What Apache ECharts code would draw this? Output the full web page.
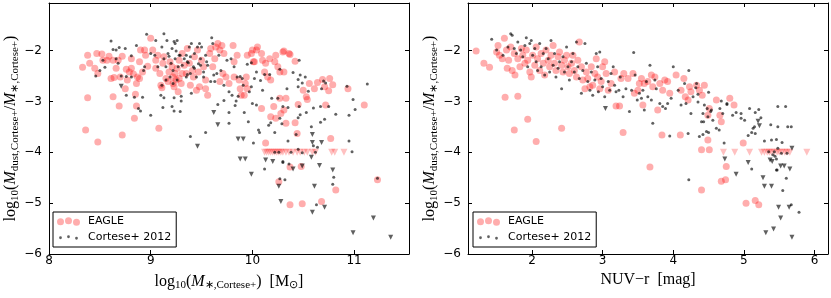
<!DOCTYPE html>
<html><head><meta charset="utf-8">
<script src="https://cdn.jsdelivr.net/npm/echarts@6/dist/echarts.min.js"></script>
<style>html,body{margin:0;padding:0;background:#fff}#c{width:831px;height:298px}</style>
</head><body><div id="c"></div>
<script>
// ---------- data ----------
const yTicks = [-6, -5, -4, -3, -2];
const xTicksLeft = [8, 9, 10, 11];
const xTicksRight = [2, 3, 4, 5, 6];
const seriesNames = ['EAGLE', 'Cortese+ 2012'];

const leftEagle = [
[8.33,-2.33],[8.38,-2.09],[8.40,-2.25],[8.45,-2.35],[8.47,-2.06],[8.48,-2.45],[8.52,-2.07],[8.53,-2.19],[8.38,-2.93],[8.36,-3.56],[8.48,-3.80],[8.57,-2.19],[8.61,-2.55],[8.59,-2.11],
[8.63,-2.19],[8.64,-2.53],[8.63,-2.91],[8.69,-3.09],[8.72,-3.66],[8.75,-2.75],[8.77,-2.58],[8.68,-2.19],[8.72,-2.11],[8.76,-2.37],[8.79,-2.42],[8.81,-2.16],[8.83,-2.46],[8.84,-3.33],[8.85,-2.86],[8.86,-3.09],[8.87,-2.52],[8.86,-2.65],[8.89,-2.22],[8.92,-2.42],[8.95,-2.09],[8.97,-2.31],[8.66,-2.35],[8.70,-2.52],[8.81,-2.35],[8.90,-1.99],[8.94,-1.99],[8.89,-2.55],
[9.00,-1.76],[9.02,-1.99],[9.05,-2.19],[9.05,-2.35],[9.07,-2.09],[9.09,-2.45],[9.10,-2.68],[9.11,-2.73],[9.08,-3.53],[9.12,-2.25],[9.13,-2.12],[9.15,-2.55],[9.17,-2.61],[9.18,-2.42],[9.19,-2.22],[9.21,-2.32],[9.22,-2.52],[9.22,-2.65],[9.23,-2.71],[9.24,-2.45],[9.25,-2.58],[9.26,-2.35],[9.27,-2.81],[9.28,-2.55],[9.28,-2.19],[9.30,-2.65],[9.31,-2.45],[9.31,-2.06],[9.33,-2.29],[9.35,-2.45],[9.36,-1.96],[9.38,-2.25],[9.39,-2.68],[9.41,-2.39],[9.42,-2.52],[9.43,-2.12],[9.45,-2.78],[9.46,-1.99],[9.47,-2.42],[9.48,-2.71],
[9.50,-2.19],[9.52,-2.32],[9.54,-2.58],[9.54,-2.75],[9.56,-2.88],[9.58,-2.06],[9.59,-1.96],[9.61,-2.32],[9.63,-2.16],[9.64,-1.93],[9.66,-1.86],[9.68,-1.99],[9.68,-2.61],[9.70,-1.90],[9.71,-2.45],[9.72,-2.06],[9.74,-2.52],[9.81,-1.90],[9.82,-2.22],[9.85,-2.09],[9.87,-2.58],[9.88,-2.75],[9.89,-2.88],[9.92,-2.88],[9.93,-2.65],[9.94,-2.52],[9.95,-2.09],[9.99,-2.06],[10.00,-1.99],[10.01,-2.22],[9.95,-2.75],[9.82,-2.52],[9.77,-2.65],
[10.02,-2.22],[10.04,-1.99],[10.05,-1.93],[10.09,-2.06],[10.10,-2.19],[10.12,-2.42],[10.13,-2.25],[10.15,-2.52],[10.17,-2.16],[10.18,-2.58],[10.22,-2.22],[10.23,-2.09],[10.25,-2.32],[10.27,-2.42],[10.30,-2.03],[10.31,-2.42],[10.36,-2.06],[10.09,-3.14],[10.13,-3.82],[10.18,-3.30],[10.21,-3.10],[10.23,-3.33],[10.27,-2.94],[10.28,-3.24],[10.31,-3.17],[10.33,-2.94],[10.33,-3.43],[10.37,-4.29],[10.26,-4.58],[10.37,-5.03],[10.42,-3.42],[10.44,-3.63],[10.45,-3.06],[10.48,-4.28],[10.49,-5.01],[10.50,-2.78],[10.53,-2.91],[10.54,-2.96],[10.56,-2.65],[10.31,-2.01],[10.37,-2.08],[10.42,-2.21],
[10.61,-2.75],[10.64,-2.63],[10.69,-2.57],[10.71,-2.71],[10.72,-3.07],[10.75,-2.79],[10.76,-2.55],[10.79,-2.67],[10.77,-3.73],[10.82,-4.74],[10.68,-4.97],[10.94,-2.75],[11.10,-3.07],[11.23,-4.54]
];
const leftEagleUpper = [
[10.12,-4],[10.14,-4],[10.16,-4],[10.18,-4],[10.20,-4],[10.22,-4],[10.24,-4],[10.26,-4],[10.28,-4],[10.30,-4],[10.33,-4],[10.36,-4],[10.40,-4],[10.44,-4],[10.47,-4],[10.51,-4],[10.54,-4],[10.59,-4],[10.62,-4],[10.78,-4],[10.81,-4],[10.90,-4]
];
const leftCortese = [
[8.46,-2.50],[8.50,-2.39],[8.53,-2.19],[8.55,-2.33],[8.61,-1.81],[8.63,-1.98],[8.66,-1.99],[8.69,-1.94],[8.75,-1.96],[8.76,-2.88],[8.81,-2.10],[8.86,-1.90],[8.84,-2.92],[8.88,-3.14],[8.90,-3.19],[8.92,-2.92],[8.96,-1.68],[9.00,-3.27],[9.12,-3.12],[9.10,-2.88],[9.11,-2.68],[9.13,-1.67],[9.05,-1.80],[9.00,-2.06],[8.94,-2.32],[8.93,-2.39],[8.81,-2.52],[8.76,-2.51],[8.71,-2.50],[8.68,-2.25],[8.66,-2.16],
[9.16,-1.80],[9.23,-1.82],[9.25,-2.01],[9.29,-2.09],[9.33,-2.16],[9.36,-2.22],[9.40,-1.86],[9.46,-1.93],[9.60,-1.75],[9.61,-1.86],[9.55,-2.22],[9.52,-2.42],[9.49,-2.29],[9.43,-2.35],[9.39,-2.45],[9.35,-2.52],[9.31,-2.29],[9.23,-2.93],[9.29,-3.20],[9.23,-3.19],[9.30,-2.99],[9.39,-3.69],[9.54,-3.61],
[9.04,-2.09],[9.07,-2.32],[9.11,-1.93],[9.13,-2.16],[9.15,-2.32],[9.17,-2.06],[9.18,-2.11],[9.19,-2.52],[9.20,-2.25],[9.21,-1.96],[9.22,-2.65],[9.22,-2.39],[9.24,-1.86],[9.24,-2.16],[9.26,-1.80],[9.26,-2.58],[9.27,-2.32],[9.28,-2.09],[9.30,-2.90],[9.35,-2.09],[9.36,-2.47],[9.37,-2.24],[9.38,-1.93],[9.39,-2.12],[9.40,-2.84],[9.42,-2.32],[9.43,-2.06],[9.45,-2.52],[9.47,-2.26],[9.48,-1.86],[9.49,-2.16],[9.15,-2.58],[9.13,-2.93],[9.21,-3.10],
[9.50,-1.93],[9.52,-2.52],[9.54,-2.09],[9.56,-2.29],[9.59,-2.61],[9.62,-2.48],[9.63,-2.61],[9.65,-2.45],[9.66,-3.06],[9.67,-2.09],[9.69,-2.39],[9.72,-2.98],[9.72,-2.68],[9.75,-2.19],[9.77,-3.43],[9.77,-3.22],[9.77,-2.81],[9.79,-2.16],[9.80,-2.88],[9.82,-2.32],[9.84,-2.99],[9.85,-2.52],[9.88,-2.51],[9.90,-2.55],[9.91,-2.68],[9.92,-3.22],[9.95,-2.27],[9.96,-3.40],[9.97,-2.81],[9.99,-2.71],[9.99,-2.24],[10.00,-3.04],[10.01,-3.82],[9.86,-2.90],[9.83,-3.08],
[10.02,-2.55],[10.04,-3.07],[10.04,-2.42],[10.06,-3.56],[10.07,-3.61],[10.08,-2.59],[10.10,-2.78],[10.12,-2.47],[10.17,-2.47],[10.19,-2.94],[10.18,-3.42],[10.22,-3.61],[10.16,-3.47],[10.12,-4.33],[10.30,-4.18],[10.27,-4.52],[10.27,-2.37],[10.25,-2.94],[10.27,-3.33],[10.29,-3.44],[10.34,-2.75],[10.35,-3.12],[10.40,-2.43],[10.46,-2.19],[10.47,-2.48],[10.52,-2.52],[10.45,-2.57],[10.49,-2.64],[10.45,-2.71],[10.30,-3.10],[10.46,-3.10],[10.53,-3.22],[10.47,-3.26],[10.45,-3.32],[10.35,-3.78],[10.43,-3.65],[10.45,-3.94],[10.49,-4.01],[10.30,-4.20],[10.32,-4.54],[10.26,-4.00],[10.22,-4.00],[10.38,-4.00],[10.36,-4.23],
[10.58,-3.50],[10.67,-3.41],[10.71,-3.35],[10.67,-3.10],[10.75,-3.10],[10.82,-3.25],[10.95,-3.27],[11.01,-3.16],[10.99,-2.96],[10.93,-2.70],[11.13,-2.66],[10.95,-3.78],[10.98,-3.99],[10.80,-4.49],[10.79,-4.63],[11.23,-4.51],[10.63,-5.03],[10.68,-2.75],[10.72,-2.64],[10.62,-4.00],[10.60,-3.87],[10.64,-3.90],[10.70,-2.60],[10.60,-3.13],[10.55,-2.80]
];
const leftCorteseUpper = [
[8.71,-2.70],[9.46,-3.88],[9.62,-3.22],[9.66,-3.46],[9.86,-3.74],[9.91,-3.74],[9.88,-4.13],[9.93,-4.13],[9.99,-4.43],[10.13,-4.15],[10.20,-4.18],[10.26,-4.67],[10.28,-4.97],[10.40,-4.33],[10.49,-4.27],[10.59,-3.65],[10.59,-3.81],[10.68,-3.81],[10.58,-4.10],[10.66,-4.26],[10.61,-4.67],[10.71,-5.08],[10.59,-5.18],[11.19,-5.29],[10.99,-5.58],[11.36,-5.67],[10.79,-4.35]
];

const rightEagle = [
[1.21,-2.01],[1.32,-2.25],[1.40,-2.33],[1.50,-2.03],[1.52,-1.90],[1.54,-2.09],[1.58,-2.16],[1.61,-1.76],[1.64,-1.99],[1.65,-2.35],[1.67,-2.19],[1.70,-1.93],[1.72,-2.39],[1.75,-2.06],[1.76,-2.48],[1.80,-2.16],[1.83,-2.32],[1.85,-1.96],[1.87,-2.09],[1.90,-2.25],[1.92,-1.99],[1.94,-2.19],[1.97,-2.42],[1.99,-2.52],
[2.01,-2.09],[2.04,-2.29],[2.06,-1.93],[2.08,-2.16],[2.11,-2.39],[2.13,-2.06],[2.16,-2.25],[2.18,-2.48],[2.20,-1.99],[2.23,-2.19],[2.25,-2.32],[2.27,-2.09],[2.30,-1.90],[2.32,-2.25],[2.34,-2.39],[2.37,-2.12],[2.39,-2.03],[2.42,-2.29],[2.44,-2.42],[2.46,-2.19],[2.49,-2.09],[2.51,-2.32],[2.53,-2.45],[2.56,-2.25],[2.58,-2.09],[2.60,-2.39],[2.63,-2.52],[2.65,-2.19],[2.67,-1.83],[2.70,-2.32],[2.72,-2.58],[2.75,-2.75],[2.77,-2.42],[2.79,-2.55],[2.82,-2.71],[2.84,-2.32],[2.86,-2.68],[2.89,-2.45],[2.91,-2.16],[2.93,-2.52],[2.96,-2.75],[2.98,-2.61],
[3.00,-2.32],[3.03,-2.22],[3.05,-2.45],[3.08,-2.78],[3.12,-2.65],[3.17,-2.42],[3.19,-3.09],[3.24,-3.09],[3.26,-2.55],[3.29,-3.61],[3.30,-2.45],[3.36,-2.55],[3.43,-2.45],[3.45,-2.84],[3.50,-2.78],[3.52,-2.65],[3.55,-2.55],[3.57,-3.07],[3.59,-2.65],[3.64,-2.61],[3.69,-2.48],[3.71,-2.71],[3.74,-2.52],[3.78,-3.17],[3.81,-2.65],[3.85,-2.78],[3.88,-2.58],[3.92,-2.61],[3.95,-2.84],
[4.04,-2.48],[4.11,-2.78],[4.15,-2.55],[4.17,-2.91],[4.21,-2.97],[4.23,-2.71],[4.25,-2.81],[4.33,-2.68],[4.37,-2.78],[4.41,-2.88],[4.44,-2.68],[4.40,-3.95],[4.40,-4.74],[4.49,-3.27],[4.51,-3.14],[4.61,-2.97],[4.66,-3.27],[4.68,-3.40],[4.80,-2.94],[4.86,-3.07],[3.84,-3.66],[4.10,-3.66],[4.49,-3.76],[4.51,-3.95],[4.75,-4.28],[4.68,-4.57],[4.74,-4.54],[4.99,-3.82],[5.03,-5.00],[5.16,-4.95],[5.21,-5.03],[3.67,-4.29],
[1.80,-2.90],[1.62,-2.92],[1.94,-3.35],[1.75,-3.56],[2.06,-3.79],[2.42,-3.53]
];
const rightEagleUpper = [
[4.71,-4],[4.87,-4],[5.08,-4],[5.25,-4],[5.29,-4],[5.33,-4],[5.36,-4],[5.39,-4],[5.43,-4],[5.47,-4],[5.50,-4],[5.54,-4],[5.58,-4],[5.61,-4],[5.65,-4],[5.89,-4]
];
const rightCortese = [
[1.43,-1.78],[1.50,-1.99],[1.59,-2.09],[1.66,-1.93],[1.70,-1.67],[1.72,-1.70],[1.75,-1.96],[1.78,-2.06],[1.80,-1.83],[1.84,-1.99],[1.87,-2.12],[1.90,-1.90],[1.92,-1.75],[1.94,-2.32],[1.97,-1.86],[1.99,-1.80],
[2.01,-2.09],[2.04,-1.96],[2.06,-2.22],[2.08,-2.39],[2.11,-1.86],[2.13,-2.32],[2.16,-2.06],[2.18,-2.48],[2.20,-1.96],[2.23,-2.16],[2.25,-2.42],[2.27,-1.80],[2.30,-2.29],[2.32,-2.06],[2.34,-2.52],[2.37,-2.35],[2.39,-2.22],[2.42,-2.75],[2.44,-2.12],[2.46,-2.42],[2.49,-1.93],[2.51,-2.32],[2.53,-2.58],[2.56,-2.22],[2.58,-2.06],[2.60,-2.42],[2.63,-1.83],[2.65,-2.32],[2.67,-2.55],[2.70,-2.84],[2.72,-2.39],[2.75,-1.86],[2.77,-2.25],[2.79,-2.61],[2.82,-2.78],[2.84,-2.42],[2.86,-2.88],[2.89,-2.58],[2.91,-2.06],[2.93,-2.32],[2.94,-2.81],[2.96,-2.03],[2.98,-2.55],
[3.00,-2.71],[3.03,-2.91],[3.08,-2.61],[3.10,-2.78],[3.12,-2.45],[3.15,-2.32],[3.17,-2.68],[3.19,-2.81],[3.23,-2.78],[3.25,-2.52],[3.29,-2.91],[3.33,-2.75],[3.38,-3.20],[3.41,-2.78],[3.44,-2.04],[3.46,-2.48],[3.49,-2.97],[3.52,-2.84],[3.55,-2.94],[3.57,-2.78],[3.59,-3.17],[3.62,-2.61],[3.64,-2.91],[3.67,-2.29],[3.69,-2.97],[3.71,-3.43],[3.74,-2.58],[3.76,-2.75],[3.81,-3.04],[3.85,-3.10],[3.89,-3.14],[3.92,-3.04],[3.95,-3.68],[3.97,-2.94],
[4.00,-2.32],[4.07,-2.78],[4.11,-3.07],[4.16,-2.65],[4.18,-3.04],[4.21,-3.63],[4.22,-2.39],[4.25,-3.24],[4.28,-2.91],[4.33,-2.65],[4.35,-3.01],[4.37,-3.69],[4.40,-3.40],[4.42,-3.24],[4.44,-3.07],[4.47,-3.59],[4.49,-3.30],[4.54,-3.17],[4.56,-3.37],[4.61,-3.53],[4.66,-3.14],[4.70,-3.24],[4.76,-3.04],[4.84,-3.27],[4.22,-4.54],
[4.32,-2.73],[4.35,-2.86],[4.50,-2.82],[4.68,-2.99],[4.76,-3.06],[4.48,-3.14],[4.53,-3.20],[4.43,-3.40],[4.42,-3.65],[4.50,-3.61],[4.65,-3.56],[4.72,-3.82],[4.89,-3.22],[4.96,-3.24],[4.96,-3.33],
[5.01,-3.37],[5.06,-3.67],[5.08,-3.14],[5.11,-3.61],[5.16,-3.63],[5.16,-3.22],[5.21,-3.16],[5.24,-3.32],[5.13,-3.53],[5.15,-3.50],[5.29,-3.78],[5.38,-3.46],[5.39,-3.76],[5.46,-3.75],[5.54,-3.81],[5.48,-3.50],[5.48,-3.10],[5.59,-3.10],[5.67,-3.50],[5.62,-3.50],[5.43,-3.99],[5.48,-3.92],[5.53,-4.02],[5.61,-4.02],[5.41,-4.05],[5.44,-4.08],[5.46,-4.13],[5.35,-3.99],[5.46,-4.35],[5.47,-4.35],[5.11,-4.33],[5.60,-4.51],[5.55,-4.75],[5.67,-5.03],[5.78,-5.18]
];
const rightCorteseUpper = [
[3.04,-3.14],[4.73,-4.13],[4.89,-4.43],[5.06,-4.20],[5.27,-4.50],[5.29,-4.67],[5.39,-4.67],[5.31,-5.58],[5.42,-5.51],[5.52,-5.29],[5.49,-5.08],[5.64,-5.08],[5.68,-5.67],[5.65,-4.33],[5.68,-3.92],[5.20,-3.39],[5.22,-3.48],[5.52,-4.27],[5.57,-4.27],[5.37,-4.15],[5.40,-4.18]
];

// ---------- chart ----------
const chart = echarts.init(document.getElementById('c'), null, {renderer: 'canvas'});
const BLACK = '#000';
const EAGLE_COL = 'rgba(255,0,0,0.4)';
const COR_COL = 'rgba(0,0,0,0.78)';
const fmt = v => String(v).replace('-', '\u2212');
const mathRich = {
  r: {fontFamily: 'Liberation Serif', fontSize: 16, lineHeight: 20, color: BLACK},
  i: {fontFamily: 'Liberation Serif', fontStyle: 'italic', fontSize: 16, lineHeight: 20, color: BLACK},
  s: {fontFamily: 'Liberation Serif', fontSize: 11, lineHeight: 11, padding: [8, 0, 0, 0], color: BLACK}
};
function xAxisDef(gi, ticks, min, max, pos, name) {
  const isMain = pos === 'bottom';
  return {
    type: 'value', gridIndex: gi, position: pos, min: min, max: max,
    name: isMain ? name : '', nameLocation: 'middle', nameGap: 5,
    nameTextStyle: {rich: mathRich, fontFamily: 'Liberation Serif', fontSize: 16, color: BLACK, verticalAlign: 'top'},
    axisLine: {show: true, onZero: false, lineStyle: {color: BLACK, width: 1}},
    axisTick: {show: true, inside: true, length: 4, customValues: ticks, lineStyle: {color: BLACK, width: 1}},
    axisLabel: {show: isMain, customValues: ticks, formatter: fmt, margin: 1, fontFamily: 'DejaVu Sans', fontSize: 12, color: BLACK},
    splitLine: {show: false}
  };
}
function yAxisDef(gi, pos, name) {
  const isMain = pos === 'left';
  return {
    type: 'value', gridIndex: gi, position: pos, min: -6, max: -1.065,
    name: isMain ? name : '', nameLocation: 'middle', nameGap: 22, nameRotate: 90,
    nameTextStyle: {rich: mathRich, fontFamily: 'Liberation Serif', fontSize: 16, color: BLACK},
    axisLine: {show: true, onZero: false, lineStyle: {color: BLACK, width: 1}},
    axisTick: {show: true, inside: true, length: 4, customValues: yTicks, lineStyle: {color: BLACK, width: 1}},
    axisLabel: {show: isMain, customValues: yTicks, formatter: fmt, margin: 7, fontFamily: 'DejaVu Sans', fontSize: 12, color: BLACK},
    splitLine: {show: false}
  };
}
const yName = '{r|log}{s|10}{r|(}{i|M}{s|dust,Cortese+}{r|/}{i|M}{s|\u2217,Cortese+}{r|)}';
const xNameLeft = '{r|log}{s|10}{r|(}{i|M}{s|\u2217,Cortese+}{r|)  [M}{s|\u2299}{r|]}';
const xNameRight = '{r|NUV\u2212r  [mag]}';

const eagleIcon = 'path://M0,4.5a3.5,3.5 0 1,0 7,0a3.5,3.5 0 1,0 -7,0Z M8,3.5a3.5,3.5 0 1,0 7,0a3.5,3.5 0 1,0 -7,0Z M16,5a3.5,3.5 0 1,0 7,0a3.5,3.5 0 1,0 -7,0Z';
const corIcon = 'path://M0,0L0.01,0Z M23,8.5L22.99,8.5Z M2.1,4.5a1.4,1.4 0 1,0 2.8,0a1.4,1.4 0 1,0 -2.8,0Z M10.1,3.5a1.4,1.4 0 1,0 2.8,0a1.4,1.4 0 1,0 -2.8,0Z M18.1,5a1.4,1.4 0 1,0 2.8,0a1.4,1.4 0 1,0 -2.8,0Z';

function legendDef(left) {
  return {
    left: left, top: 212, orient: 'vertical',
    data: [{name: seriesNames[0], icon: eagleIcon}, {name: seriesNames[1], icon: corIcon}],
    itemWidth: 23, itemHeight: 8.5, itemGap: 5,
    padding: [4, 5, 4, 4],
    borderColor: BLACK, borderWidth: 1, borderRadius: 0, backgroundColor: '#fff',
    textStyle: {fontFamily: 'DejaVu Sans', fontSize: 11, color: BLACK, padding: [0, 0, 0, 3]},
    selectedMode: false
  };
}
function panelSeries(ax, eagle, eagleUp, cor, corUp) {
  return [
    {name: seriesNames[0], type: 'scatter', xAxisIndex: ax, yAxisIndex: ax, data: eagle, symbol: 'circle', symbolSize: 7, itemStyle: {color: EAGLE_COL}, silent: true, z: 2},
    {name: 'EAGLE limits', type: 'scatter', xAxisIndex: ax, yAxisIndex: ax, data: eagleUp, symbol: 'triangle', symbolRotate: 180, symbolSize: 7, itemStyle: {color: 'rgba(255,0,0,0.3)'}, silent: true, z: 2},
    {name: seriesNames[1], type: 'scatter', xAxisIndex: ax, yAxisIndex: ax, data: cor, symbol: 'circle', symbolSize: 3, itemStyle: {color: COR_COL}, silent: true, z: 3},
    {name: 'Cortese limits', type: 'scatter', xAxisIndex: ax, yAxisIndex: ax, data: corUp, symbol: 'triangle', symbolRotate: 180, symbolSize: 5, itemStyle: {color: COR_COL}, silent: true, z: 3}
  ];
}
chart.setOption({
  animation: false,
  backgroundColor: '#fff',
  grid: [
    {left: 49, top: 3, width: 360, height: 251},
    {left: 468, top: 3, width: 360, height: 251}
  ],
  xAxis: [
    xAxisDef(0, xTicksLeft, 8, 11.54, 'bottom', xNameLeft),
    xAxisDef(0, xTicksLeft, 8, 11.54, 'top', ''),
    xAxisDef(1, xTicksRight, 1.095, 6.19, 'bottom', xNameRight),
    xAxisDef(1, xTicksRight, 1.095, 6.19, 'top', '')
  ],
  yAxis: [
    yAxisDef(0, 'left', yName),
    yAxisDef(0, 'right', ''),
    yAxisDef(1, 'left', yName),
    yAxisDef(1, 'right', '')
  ],
  legend: [legendDef(53), legendDef(473)],
  series: [].concat(
    panelSeries(0, leftEagle, leftEagleUpper, leftCortese, leftCorteseUpper),
    panelSeries(2, rightEagle, rightEagleUpper, rightCortese, rightCorteseUpper)
  )
});
</script></body></html>
